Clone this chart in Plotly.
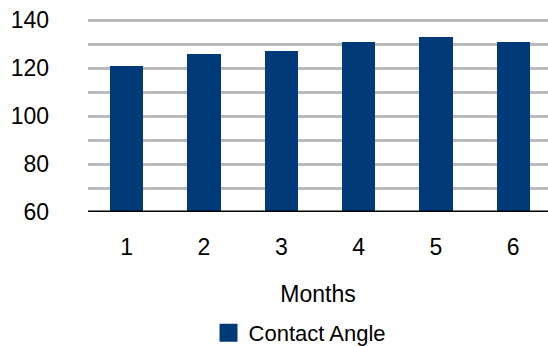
import plotly.graph_objects as go

months = [1, 2, 3, 4, 5, 6]
contact_angle = [121, 126, 127.3, 131, 133.1, 131]
series_name = "Contact Angle"
y_ticks = [60, 80, 100, 120, 140]

BAR = "#003A78"
FONT = "Liberation Sans, Arial, Helvetica, sans-serif"

fig = go.Figure()
fig.add_trace(go.Bar(
    x=months, y=contact_angle, name=series_name,
    marker=dict(color=BAR, line=dict(width=0)),
    width=0.43, showlegend=False, legendgroup="ca",
))
# legend entry (larger square swatch, like the reference)
fig.add_trace(go.Scatter(
    x=[None], y=[None], mode="markers", name=series_name, legendgroup="ca",
    marker=dict(symbol="square", size=16, color=BAR, line=dict(color=BAR, width=2)),
    showlegend=True, hoverinfo="skip",
))

fig.update_layout(
    width=548, height=346,
    margin=dict(l=88, r=0, t=18, b=134, autoexpand=False),
    paper_bgcolor="white", plot_bgcolor="white",
    font=dict(family=FONT, size=23, color="black"),
    bargap=0,
    showlegend=True,
    legend=dict(orientation="h", x=0.262, xanchor="left", y=-0.515, yanchor="top",
                font=dict(size=22), itemclick=False, itemdoubleclick=False),
    xaxis=dict(
        range=[0.5, 6.45], tickmode="array", tickvals=months,
        ticktext=[str(m) for m in months],
        showgrid=False, showline=False, zeroline=False, ticks="",
        ticklabelstandoff=19, automargin=False,
        title=dict(text="Months", font=dict(size=23), standoff=26),
    ),
    yaxis=dict(
        range=[60, 141], tickmode="array", tickvals=y_ticks,
        showgrid=True, gridcolor="#BBBBBB", gridwidth=2.5,
        minor=dict(dtick=10, showgrid=True, gridcolor="#BBBBBB", gridwidth=2.5),
        showline=False, zeroline=False, ticks="",
        ticklabelstandoff=38, automargin=False,
    ),
    shapes=[dict(type="line", xref="paper", yref="y", x0=0, x1=1, y0=60, y1=60,
                 line=dict(color="black", width=3))],
)

fig.write_html("out.html")
